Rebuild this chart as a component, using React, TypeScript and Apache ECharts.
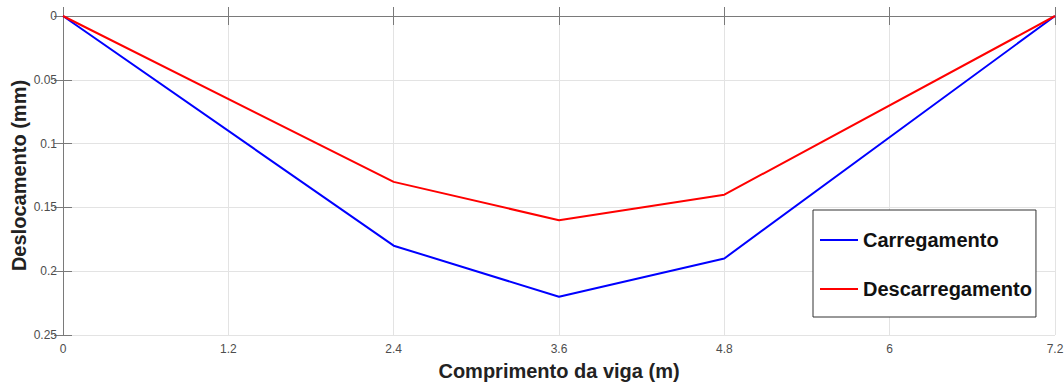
import React, { useEffect, useRef } from "react";
import * as echarts from "echarts";

const xPositions = [0, 2.4, 3.6, 4.8, 7.2];
const carregamento = [0, 0.18, 0.22, 0.19, 0];
const descarregamento = [0, 0.13, 0.16, 0.14, 0];
const seriesNames = ["Carregamento", "Descarregamento"];
const xTitle = "Comprimento da viga (m)";
const yTitle = "Deslocamento (mm)";

const FONT = "'Liberation Sans', Arial, Helvetica, sans-serif";
const AXIS_COLOR = "#7a7a7a";
const LABEL_COLOR = "#4d4d4d";

export default function App() {
  const ref = useRef<HTMLDivElement>(null);
  useEffect(() => {
    if (!ref.current) return;
    const chart = echarts.init(ref.current, undefined, { renderer: "svg" });
    const fmt = (v: number) => String(parseFloat(v.toFixed(3)));
    const baseTick = { show: true, inside: true, length: 9, lineStyle: { color: AXIS_COLOR } };
    chart.setOption({
      animation: false,
      backgroundColor: "#ffffff",
      textStyle: { fontFamily: FONT },
      grid: { left: 63, right: 9, top: 16, bottom: 49, containLabel: false, outerBoundsMode: "none" },
      xAxis: [
        {
          type: "value",
          min: 0,
          max: 7.2,
          interval: 1.2,
          name: xTitle,
          nameLocation: "middle",
          nameGap: 26,
          nameMoveOverlap: false,
          nameTextStyle: { fontSize: 20, fontWeight: "bold", color: "#222", fontFamily: FONT },
          axisLine: { show: true, lineStyle: { color: AXIS_COLOR, width: 1 } },
          axisTick: baseTick,
          axisLabel: { color: LABEL_COLOR, fontSize: 12, margin: 8, formatter: fmt, fontFamily: FONT },
          splitLine: { show: true, lineStyle: { color: "#e3e3e3", width: 1 } },
        },
        {
          type: "value",
          position: "top",
          min: 0,
          max: 7.2,
          interval: 1.2,
          axisLine: { show: true, lineStyle: { color: AXIS_COLOR, width: 1 } },
          axisTick: baseTick,
          axisLabel: { show: false },
          splitLine: { show: false },
        },
      ],
      yAxis: [
        {
          type: "value",
          inverse: true,
          min: 0,
          max: 0.25,
          interval: 0.05,
          name: yTitle,
          nameLocation: "middle",
          nameGap: 34,
          nameMoveOverlap: false,
          nameTextStyle: { fontSize: 20, fontWeight: "bold", color: "#222", fontFamily: FONT },
          axisLine: { show: true, lineStyle: { color: AXIS_COLOR, width: 1 } },
          axisTick: baseTick,
          axisLabel: { color: LABEL_COLOR, fontSize: 12, margin: 6, formatter: fmt, fontFamily: FONT },
          splitLine: { show: true, lineStyle: { color: "#e3e3e3", width: 1 } },
        },
        {
          type: "value",
          position: "right",
          inverse: true,
          min: 0,
          max: 0.25,
          interval: 0.05,
          axisLine: { show: true, lineStyle: { color: AXIS_COLOR, width: 1 } },
          axisTick: baseTick,
          axisLabel: { show: false },
          splitLine: { show: false },
        },
      ],
      legend: {
        orient: "vertical",
        left: 813,
        top: 210,
        padding: [19, 4, 17, 7],
        itemGap: 27,
        itemWidth: 38,
        itemHeight: 2,
        icon: "rect",
        backgroundColor: "#ffffff",
        borderColor: "#333",
        borderWidth: 1,
        textStyle: { fontSize: 20, fontWeight: "bold", color: "#111", lineHeight: 22, fontFamily: FONT },
        data: seriesNames,
      },
      series: [
        {
          name: seriesNames[0],
          type: "line",
          data: xPositions.map((x, i) => [x, carregamento[i]]),
          symbol: "none",
          lineStyle: { color: "#0000ff", width: 2 },
          itemStyle: { color: "#0000ff" },
        },
        {
          name: seriesNames[1],
          type: "line",
          data: xPositions.map((x, i) => [x, descarregamento[i]]),
          symbol: "none",
          lineStyle: { color: "#ff0000", width: 2 },
          itemStyle: { color: "#ff0000" },
        },
      ],
    });
    return () => chart.dispose();
  }, []);
  return <div ref={ref} style={{ width: 1064, height: 384, position: "absolute", left: 0, top: 0 }} />;
}
